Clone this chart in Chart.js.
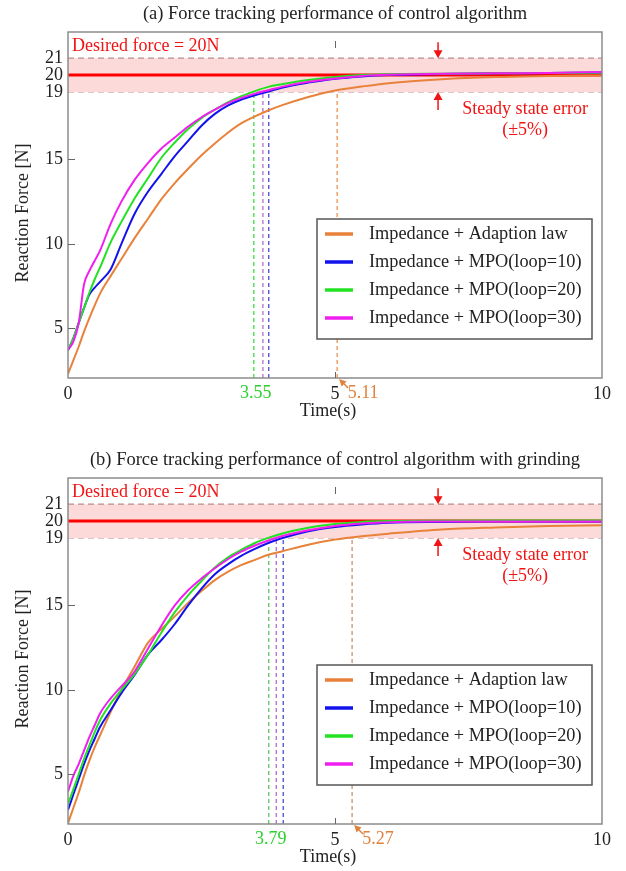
<!DOCTYPE html>
<html><head><meta charset="utf-8">
<script src="https://cdn.jsdelivr.net/npm/chart.js@4.4.1/dist/chart.umd.min.js"></script>
<style>
html,body{margin:0;padding:0;background:#fff;}
#wrap{position:relative;width:626px;height:871px;overflow:hidden;}
canvas{position:absolute;left:0;}
#ca{top:0px;} #cb{top:446px;}
</style></head><body>
<div id="wrap"><canvas id="ca" width="626" height="425"></canvas><canvas id="cb" width="626" height="425"></canvas></div>
<script>
// ---------------- data ----------------
const timeGrid = [0,0.1,0.2,0.3,0.4,0.5,0.6,0.8,1.0,1.25,1.5,1.75,2.0,2.25,2.5,2.75,3.0,3.25,3.5,3.75,4.0,4.5,5.0,5.5,6.0,7.0,8.0,9.0,10.0];

// (a) without grinding
const adaptA = [2.3,3.1,3.9,4.8,5.6,6.35,7.05,8.1,9.1,10.35,11.5,12.65,13.6,14.45,15.25,15.95,16.6,17.15,17.55,17.9,18.2,18.7,19.08,19.32,19.52,19.75,19.88,19.94,19.98];
const mpo10A = [3.7,4.4,5.3,6.2,7.0,7.4,7.75,8.5,10.0,11.8,13.1,14.15,15.2,16.1,17.0,17.7,18.2,18.55,18.8,19.02,19.25,19.55,19.78,19.92,20.0,20.06,20.1,20.12,20.15];
const mpo20A = [3.7,4.4,5.3,6.2,7.1,7.9,8.6,10.1,11.3,12.7,13.9,15.1,16.0,16.8,17.45,17.95,18.4,18.75,19.05,19.3,19.45,19.7,19.88,20.0,20.05,20.08,20.1,20.12,20.15];
const mpo30A = [3.7,4.2,5.3,7.6,8.4,9.0,9.6,11.2,12.5,13.8,14.8,15.65,16.3,16.95,17.5,17.95,18.35,18.65,18.9,19.1,19.3,19.6,19.8,19.95,20.02,20.08,20.1,20.12,20.18];

// (b) with grinding
const adaptB = [2.09,3.0,3.9,4.9,5.8,6.6,7.3,8.7,10.0,11.4,12.8,13.6,14.35,15.15,15.85,16.5,17.0,17.4,17.7,18.0,18.2,18.6,18.9,19.1,19.25,19.5,19.62,19.7,19.75];
const mpo10B = [2.88,3.8,4.7,5.6,6.4,7.1,7.8,8.8,9.8,10.9,12.1,12.95,13.9,15.0,16.0,16.85,17.45,17.95,18.35,18.7,18.98,19.4,19.65,19.8,19.9,19.95,19.97,19.98,19.98];
const mpo20B = [3.24,4.1,5.0,5.9,6.7,7.5,8.2,9.2,10.0,10.95,12.1,13.4,14.6,15.6,16.45,17.25,17.85,18.3,18.7,19.0,19.25,19.6,19.82,19.95,20.0,20.02,20.03,20.03,20.03];
const mpo30B = [3.97,4.9,5.6,6.4,7.2,7.9,8.6,9.5,10.2,11.1,12.45,13.8,15.0,15.9,16.6,17.2,17.75,18.2,18.55,18.85,19.1,19.45,19.7,19.85,19.93,19.97,19.98,19.98,19.98];

// time at which each series enters the 19 N band (adapt, mpo10, mpo20, mpo30)
const settleA = [5.04,3.76,3.48,3.65];
const settleB = [5.32,4.03,3.76,3.90];
const settleLabelsA = ['3.55','5.11'];
const settleLabelsB = ['3.79','5.27'];

const seriesNames = ['Impedance + Adaption law','Impedance + MPO(loop=10)','Impedance + MPO(loop=20)','Impedance + MPO(loop=30)'];
const yTicks = [5,10,15,19,20,21];
const xTicks = [0,5,10];
const desiredForce = 20, bandHigh = 21, bandLow = 19;
const titles = ['(a) Force tracking performance of control algorithm','(b) Force tracking performance of control algorithm with grinding'];
const xTitle = 'Time(s)', yTitle = 'Reaction Force [N]';

// ---------------- styles ----------------
const FONT = "'Liberation Serif','Times New Roman',serif";
const X_MIN = 0, X_MAX = 10, Y_MIN = 2.05, Y_MAX = 22.55;
const seriesColors = ['#e8823a','#1212ec','#22e222','#f01ef0'];
const curveOrder = [4,3,2,1];
const guideColorsA = ['#ee8a40','#3a3ad0','#30d830','#b060c8'];
const guideColorsB = ['#c08a66','#3a3ad0','#50c050','#b060c8'];

function arrow(ctx, x1, y1, x2, y2, color, head, hw) {
  const a = Math.atan2(y2 - y1, x2 - x1);
  const c = Math.cos(a), s = Math.sin(a);
  ctx.strokeStyle = color; ctx.fillStyle = color; ctx.lineWidth = 1.5; ctx.setLineDash([]);
  ctx.beginPath(); ctx.moveTo(x1, y1); ctx.lineTo(x2 - c * head * 0.9, y2 - s * head * 0.9); ctx.stroke();
  ctx.beginPath(); ctx.moveTo(x2, y2);
  ctx.lineTo(x2 - head * c + hw * s, y2 - head * s - hw * c);
  ctx.lineTo(x2 - head * c - hw * s, y2 - head * s + hw * c);
  ctx.closePath(); ctx.fill();
}

function build(canvasId, titleText, series, settle, settleLabels, guideColors) {
  const pts = arr => timeGrid.map((t, i) => ({x: t, y: arr[i]}));
  const datasets = [];
  series.forEach((arr, i) => datasets.push({
    label: seriesNames[i], data: pts(arr), borderColor: seriesColors[i], borderWidth: 2,
    pointRadius: 0, cubicInterpolationMode: 'monotone', order: curveOrder[i], fill: false
  }));
  datasets.push({label: 'desired', data: [{x: X_MIN, y: desiredForce}, {x: X_MAX, y: desiredForce}],
    borderColor: '#ff0000', borderWidth: 3, pointRadius: 0, order: 5, fill: false});
  settle.forEach((v, i) => datasets.push({label: 'settle' + i, data: [{x: v, y: Y_MIN}, {x: v, y: bandLow}],
    borderColor: guideColors[i], borderWidth: 1.2, borderDash: [4, 3], pointRadius: 0, order: 6, fill: false}));
  datasets.push({label: 'hi', data: [{x: X_MIN, y: bandHigh}, {x: X_MAX, y: bandHigh}],
    borderColor: '#b98c8c', borderWidth: 1.3, borderDash: [6, 4], pointRadius: 0, order: 7,
    fill: '+1', backgroundColor: '#fcdada'});
  datasets.push({label: 'lo', data: [{x: X_MIN, y: bandLow}, {x: X_MAX, y: bandLow}],
    borderColor: '#b98c8c', borderWidth: 1.3, borderDash: [6, 4], pointRadius: 0, order: 7, fill: false});

  const decor = {
    id: 'decor',
    afterDatasetsDraw(chart) {
      const {ctx, chartArea: ca, scales: {x, y}} = chart;
      ctx.save();
      // frame
      ctx.setLineDash([]);
      ctx.strokeStyle = '#8c8c8c'; ctx.lineWidth = 1.5;
      ctx.strokeRect(ca.left, ca.top, ca.right - ca.left, ca.bottom - ca.top);
      // inward tick marks
      ctx.lineWidth = 1;
      ctx.strokeStyle = '#666';
      ctx.beginPath();
      yTicks.filter(v => v < bandLow).forEach(v => { const py = Math.round(y.getPixelForValue(v)) + 0.5; ctx.moveTo(ca.left, py); ctx.lineTo(ca.left + 7, py); });
      const px5 = Math.round(x.getPixelForValue(xTicks[1])) + 0.5;
      ctx.moveTo(px5, ca.bottom); ctx.lineTo(px5, ca.bottom - 6);
      ctx.moveTo(px5, ca.top + 9); ctx.lineTo(px5, ca.top + 16);
      ctx.stroke();

      // title
      ctx.fillStyle = '#222';
      ctx.font = '18.5px ' + FONT;
      ctx.textAlign = 'center'; ctx.textBaseline = 'middle';
      ctx.fillText(titleText, (ca.left + ca.right) / 2, ca.top - 18);

      // axis titles
      ctx.font = '18px ' + FONT;
      ctx.fillText(xTitle, (ca.left + ca.right) / 2 - 7, ca.bottom + 33);
      ctx.save();
      ctx.translate(23, (ca.top + ca.bottom) / 2 + 8);
      ctx.rotate(-Math.PI / 2);
      ctx.fillText(yTitle, 0, 0);
      ctx.restore();

      // desired force text
      ctx.fillStyle = '#f01414';
      ctx.textAlign = 'left';
      ctx.fillText('Desired force = 20N', ca.left + 4, ca.top + 14);

      // steady-state arrows and text
      const ax = x.getPixelForValue(6.93);
      const yHi = y.getPixelForValue(bandHigh), yLo = y.getPixelForValue(bandLow);
      arrow(ctx, ax, yHi - 16, ax, yHi, '#f01414', 8, 4.5);
      arrow(ctx, ax, yLo + 18, ax, yLo, '#f01414', 8, 4.5);
      ctx.fillStyle = '#f01414';
      ctx.textAlign = 'center';
      const tx = x.getPixelForValue(8.56);
      ctx.fillText('Steady state error', tx, yLo + 17);
      ctx.fillText('(\u00b15%)', tx, yLo + 38);

      // settling-time labels
      const lblY = ca.bottom + 15;
      const gx = x.getPixelForValue(settle[2]);
      ctx.fillStyle = '#2ed02e';
      ctx.fillText(settleLabels[0], gx + 2, lblY);
      const ox = x.getPixelForValue(settle[0]);
      ctx.fillStyle = '#e0823e';
      ctx.fillText(settleLabels[1], ox + 26, lblY);
      arrow(ctx, ox + 11, ca.bottom + 10, ox + 2, ca.bottom + 1, '#e0823e', 7, 3.5);

      // legend
      const lw = 275, lh = 120;
      const lx = ca.right - 285, ly = ca.bottom - 39 - lh;
      ctx.fillStyle = '#fff';
      ctx.fillRect(lx, ly, lw, lh);
      ctx.strokeStyle = '#555'; ctx.lineWidth = 1.5;
      ctx.strokeRect(lx, ly, lw, lh);
      ctx.textAlign = 'left';
      ctx.font = '18.3px ' + FONT;
      seriesNames.forEach((name, i) => {
        const ry = ly + 15 + 28 * i;
        ctx.strokeStyle = seriesColors[i]; ctx.lineWidth = 3.5;
        ctx.beginPath(); ctx.moveTo(lx + 8, ry); ctx.lineTo(lx + 36, ry); ctx.stroke();
        ctx.fillStyle = '#222';
        ctx.fillText(name, lx + 52, ry);
      });
      ctx.restore();
    }
  };

  return new Chart(document.getElementById(canvasId), {
    type: 'line',
    data: {datasets},
    plugins: [decor],
    options: {
      responsive: false, animation: false,
      layout: {padding: {top: 32, right: 24, bottom: 0, left: 0}},
      plugins: {legend: {display: false}, tooltip: {enabled: false}, title: {display: false}},
      scales: {
        x: {
          type: 'linear', min: X_MIN, max: X_MAX,
          afterBuildTicks: s => { s.ticks = xTicks.map(v => ({value: v})); },
          afterFit: s => { s.height = 47; },
          grid: {display: false, drawTicks: false}, border: {display: false},
          ticks: {padding: 5, color: '#222', font: {family: FONT, size: 18}, maxRotation: 0, autoSkip: false},
          title: {display: false}
        },
        y: {
          type: 'linear', min: Y_MIN, max: Y_MAX,
          afterBuildTicks: s => { s.ticks = yTicks.map(v => ({value: v})); },
          afterFit: s => { s.width = 68; },
          grid: {display: false, drawTicks: false}, border: {display: false},
          ticks: {padding: 5, color: '#222', font: {family: FONT, size: 18}, autoSkip: false, callback: v => String(v)},
          title: {display: false}
        }
      }
    }
  });
}

build('ca', titles[0], [adaptA, mpo10A, mpo20A, mpo30A], settleA, settleLabelsA, guideColorsA);
build('cb', titles[1], [adaptB, mpo10B, mpo20B, mpo30B], settleB, settleLabelsB, guideColorsB);
</script></body></html>
